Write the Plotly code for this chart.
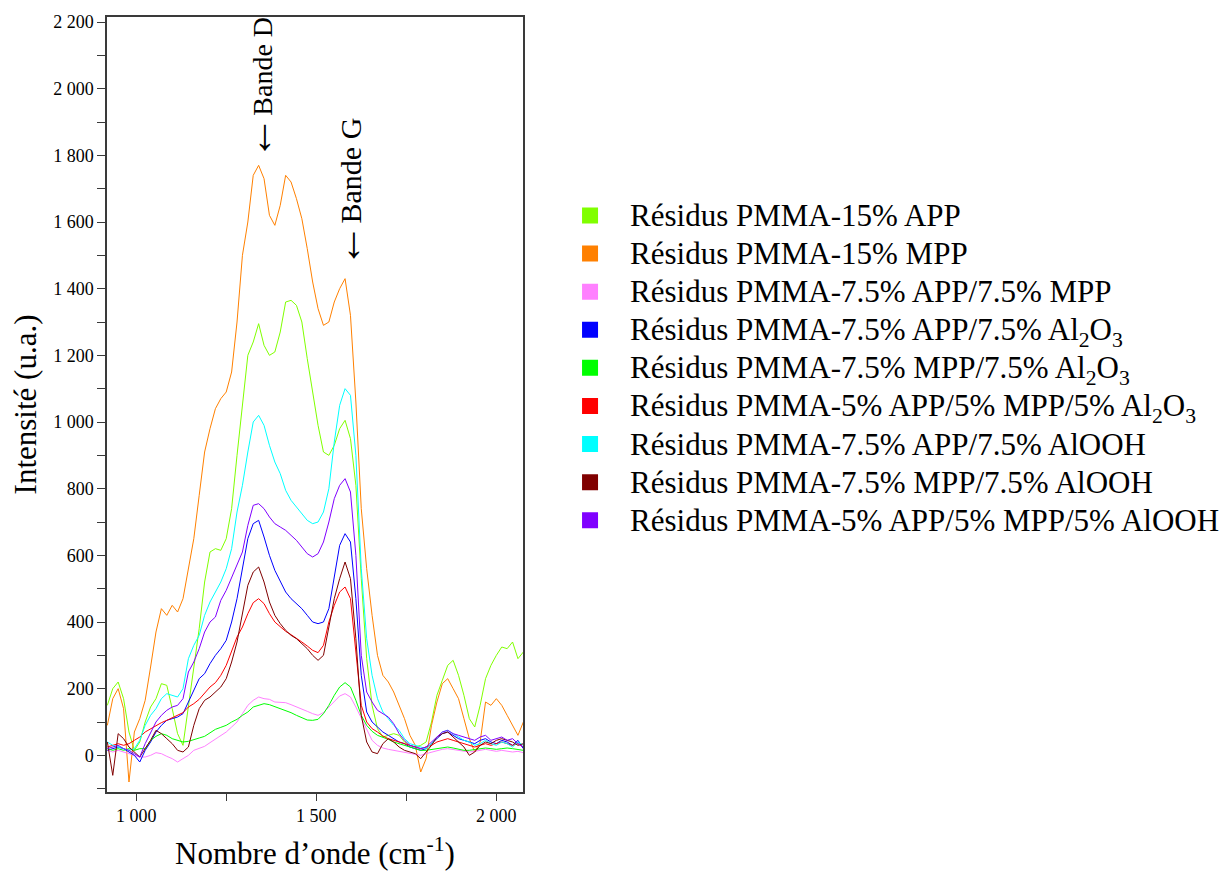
import plotly.graph_objects as go

wavenumber = [920, 935, 950, 965, 980, 995, 1010, 1025, 1040, 1055, 1070, 1085, 1100, 1115, 1130, 1145,
              1160, 1175, 1190, 1205, 1220, 1235, 1250, 1265, 1280, 1295, 1310, 1325, 1340, 1355, 1370,
              1385, 1400, 1415, 1430, 1445, 1460, 1475, 1490, 1505, 1520, 1535, 1550, 1565, 1580, 1595,
              1610, 1625, 1640, 1655, 1670, 1685, 1700, 1715, 1730, 1745, 1760, 1775, 1790, 1805, 1820,
              1835, 1850, 1865, 1880, 1895, 1910, 1925, 1940, 1955, 1970, 1985, 2000, 2015, 2030, 2045,
              2060, 2075]

app15 = [150, 200, 220, 170, 70, 15, 40, 100, 145, 170, 215, 210, 140, 65, 30, 150,
         260, 380, 520, 610, 620, 615, 650, 740, 900, 1050, 1200, 1240, 1295, 1230, 1200,
         1210, 1270, 1360, 1365, 1350, 1300, 1190, 1090, 990, 910, 900, 930, 980, 1005, 950,
         810, 530, 290, 150, 80, 55, 60, 65, 60, 40, 30, 25, 30, 40, 100,
         180, 225, 270, 285, 240, 180, 110, 85, 150, 230, 270, 300, 325, 320, 340,
         290, 310]

mpp15 = [90, 170, 200, 140, -80, 70, 110, 165, 265, 370, 440, 420, 450, 430, 470, 560,
         650, 780, 910, 980, 1040, 1070, 1090, 1150, 1300, 1500, 1600, 1740, 1770, 1730, 1620,
         1590, 1650, 1740, 1720, 1670, 1610, 1520, 1420, 1340, 1290, 1300, 1360, 1400, 1430, 1320,
         1060, 740, 560, 420, 300, 240, 220, 190, 150, 110, 60, 30, -50, -10, 90,
         160, 215, 230, 200, 170, 110, 50, 10, 40, 160, 150, 170, 150, 120, 90,
         60, 100]

app_mpp = [15, 10, 15, 10, 5, 0, -5, -5, 0, 8, 5, -3, -10, -20, -10, 0,
           15, 22, 27, 38, 48, 58, 70, 85, 100, 125, 150, 165, 175, 170, 168,
           160, 158, 158, 152, 146, 138, 132, 125, 120, 128, 145, 160, 178, 185, 175,
           145, 110, 75, 45, 30, 22, 18, 15, 10, 8, 5, 2, 0, 5, 10,
           15, 18, 20, 18, 15, 12, 10, 12, 15, 18, 15, 12, 15, 12, 10,
           12, 8]

app_al2o3 = [15, 20, 25, 20, 10, 0, -20, 15, 40, 70, 90, 105, 110, 115, 125, 160,
             195, 230, 245, 275, 300, 320, 345, 400, 470, 560, 650, 695, 705, 655, 600,
             555, 520, 490, 470, 455, 440, 420, 400, 395, 400, 440, 540, 630, 665, 640,
             470, 240, 130, 100, 85, 70, 60, 50, 40, 35, 25, 20, 15, 20, 35,
             50, 65, 70, 60, 50, 45, 40, 35, 45, 50, 40, 35, 45, 40, 30,
             45, 20]

mpp_al2o3 = [20, 15, 20, 15, 20, 15, 20, 20, 45, 57, 65, 60, 50, 45, 40, 42,
             48, 52, 57, 68, 78, 84, 90, 100, 108, 120, 130, 145, 150, 155, 152,
             146, 142, 135, 128, 120, 112, 106, 105, 108, 125, 150, 180, 205, 218, 205,
             165, 120, 90, 72, 60, 55, 48, 40, 35, 30, 25, 20, 15, 15, 18,
             20, 22, 25, 22, 18, 15, 15, 18, 20, 22, 20, 18, 20, 22, 20,
             18, 15]

tern_al2o3 = [25, 30, 35, 30, 35, 45, 55, 70, 80, 88, 98, 105, 112, 120, 128, 145,
              155, 168, 185, 205, 218, 240, 270, 310, 355, 385, 425, 458, 470, 455, 425,
              400, 385, 372, 362, 352, 340, 328, 315, 308, 330, 400, 450, 490, 505, 470,
              320, 150, 100, 80, 70, 58, 50, 45, 40, 35, 30, 25, 20, 25, 30,
              40, 45, 50, 45, 40, 35, 30, 25, 30, 35, 30, 35, 40, 35, 30,
              35, 25]

app_alooh = [40, 30, 25, 20, 15, 20, 45, 90, 120, 140, 170, 185, 180, 175, 200, 290,
             330, 360, 420, 460, 490, 520, 560, 620, 730, 810, 910, 1000, 1020, 990, 930,
             880, 845, 795, 765, 745, 725, 705, 695, 700, 730, 800, 940, 1050, 1100, 1080,
             900, 560, 350, 240, 170, 130, 110, 90, 75, 50, 35, 30, 25, 20, 35,
             55, 70, 75, 65, 55, 45, 40, 30, 35, 45, 35, 30, 40, 35, 25,
             40, 30]

mpp_alooh = [40, -60, 65, 50, 25, 10, -5, 20, 45, 75, 65, 50, 35, 15, 10, 25,
             90, 140, 165, 175, 190, 205, 230, 280, 340, 430, 510, 550, 565, 520, 460,
             420, 395, 375, 360, 350, 335, 320, 300, 285, 300, 380, 470, 530, 580, 530,
             350, 120, 40, 10, 5, 35, 50, 40, 25, 15, 10, 5, -10, 10, 30,
             55, 65, 70, 55, 40, 25, 0, 10, 30, 40, 35, 45, 50, 45, 40,
             30, 35]

tern_alooh = [20, 25, 30, 20, 15, 5, -5, 35, 70, 100, 120, 135, 145, 150, 170, 250,
              280, 320, 370, 400, 415, 465, 495, 535, 575, 610, 690, 750, 755, 740, 715,
              695, 685, 675, 660, 645, 625, 605, 595, 605, 640, 700, 770, 810, 830, 790,
              600, 300, 190, 160, 135, 125, 115, 95, 65, 45, 30, 25, 20, 25, 40,
              55, 70, 75, 65, 60, 55, 50, 45, 55, 60, 45, 50, 55, 45, 50,
              35, 25]

series_names = [
    "Résidus PMMA-15% APP",
    "Résidus PMMA-15% MPP",
    "Résidus PMMA-7.5% APP/7.5% MPP",
    "Résidus PMMA-7.5% APP/7.5% Al<sub>2</sub>O<sub>3</sub>",
    "Résidus PMMA-7.5% MPP/7.5% Al<sub>2</sub>O<sub>3</sub>",
    "Résidus PMMA-5% APP/5% MPP/5% Al<sub>2</sub>O<sub>3</sub>",
    "Résidus PMMA-7.5% APP/7.5% AlOOH",
    "Résidus PMMA-7.5% MPP/7.5% AlOOH",
    "Résidus PMMA-5% APP/5% MPP/5% AlOOH",
]
series_values = [app15, mpp15, app_mpp, app_al2o3, mpp_al2o3, tern_al2o3, app_alooh, mpp_alooh, tern_alooh]
series_colors = ["#80FF00", "#FF8000", "#FF80FF", "#0000FF", "#00FF00", "#FF0000",
                 "#00FFFF", "#800000", "#8000FF"]

x_tickvals = [1000, 1250, 1500, 1750, 2000]
x_ticktext = ["1 000", "", "1 500", "", "2 000"]
y_tickvals = [-100, 0, 100, 200, 300, 400, 500, 600, 700, 800, 900, 1000, 1100, 1200, 1300,
              1400, 1500, 1600, 1700, 1800, 1900, 2000, 2100, 2200]
y_ticktext = ["", "0", "", "200", "", "400", "", "600", "", "800", "", "1 000", "", "1 200", "",
              "1 400", "", "1 600", "", "1 800", "", "2 000", "", "2 200"]

SERIF = "Liberation Serif"

fig = go.Figure()
for name, vals, col in zip(series_names, series_values, series_colors):
    fig.add_trace(go.Scatter(x=wavenumber, y=vals, mode="lines", line=dict(color=col, width=1),
                             name=name, legendgroup=name, showlegend=False))
for name, col in zip(series_names, series_colors):
    fig.add_trace(go.Scatter(x=[None], y=[None], mode="markers",
                             name='<span style="font-size:31px">' + name + '</span>', legendgroup=name,
                             marker=dict(symbol="square", size=16, color=col), showlegend=True))

arrow = '<span style="font-size:44px">←</span>'
fig.add_annotation(x=1336, y=1780, text=arrow + "Bande D", textangle=-90, showarrow=False,
                   xanchor="center", yanchor="bottom", font=dict(family=SERIF, size=28, color="black"))
fig.add_annotation(x=1583, y=1458, text=arrow + "Bande G", textangle=-90, showarrow=False,
                   xanchor="center", yanchor="bottom", font=dict(family=SERIF, size=30, color="black"))

axis_line = "#3a3a3a"
fig.update_layout(
    width=1222, height=863,
    margin=dict(l=99, r=707, t=4, b=78),
    paper_bgcolor="white", plot_bgcolor="white",
    font=dict(family=SERIF, color="black"),
    showlegend=True,
    legend=dict(x=1.065, xanchor="left", y=0.775, yanchor="top", font=dict(family=SERIF, size=27, color="black"),
                traceorder="grouped", tracegroupgap=0, itemwidth=70, bgcolor="rgba(0,0,0,0)"),
    xaxis=dict(range=[919, 2074], tickvals=x_tickvals, ticktext=x_ticktext, ticks="outside", ticklen=7,
               tickcolor=axis_line, showline=True, linecolor=axis_line, linewidth=1.5, mirror=True,
               showgrid=False, zeroline=False, tickfont=dict(family=SERIF, size=18, color="black"),
               title=dict(text="Nombre d’onde (cm<sup>-1</sup>)", font=dict(family=SERIF, size=31, color="black"),
                          standoff=19)),
    yaxis=dict(range=[-110, 2215], tickvals=y_tickvals, ticktext=y_ticktext, ticks="outside", ticklen=8,
               tickcolor=axis_line, showline=True, linecolor=axis_line, linewidth=1.5, mirror=True,
               showgrid=False, zeroline=False, tickfont=dict(family=SERIF, size=18, color="black"),
               title=dict(text="Intensité (u.a.)", font=dict(family=SERIF, size=31, color="black"),
                          standoff=10)),
)

fig.write_html("out.html")
